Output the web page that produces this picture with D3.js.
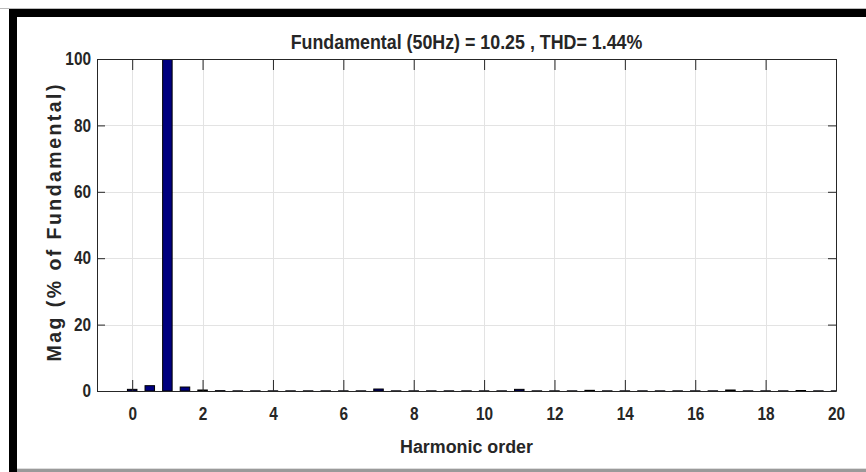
<!DOCTYPE html>
<html>
<head>
<meta charset="utf-8">
<script src="https://cdn.jsdelivr.net/npm/d3@7"></script>
<style>
  body { margin: 0; background: #fff; }
  svg { display: block; }
  .narrow { font-family: "Liberation Sans", Arial, sans-serif; font-weight: bold; fill: #262626; }
</style>
</head>
<body>
<div id="chart"></div>
<script>
// harmonic order of each FFT bin (0.5 step = 25 Hz resolution)
const orders = [0, 0.5, 1, 1.5, 2, 2.5, 3, 3.5, 4, 4.5, 5, 5.5, 6, 6.5, 7, 7.5, 8, 8.5, 9, 9.5,
  10, 10.5, 11, 11.5, 12, 12.5, 13, 13.5, 14, 14.5, 15, 15.5, 16, 16.5, 17, 17.5, 18, 18.5, 19, 19.5, 20];
// magnitude in % of fundamental
const mags = [0.5, 1.6, 100, 1.2, 0.3, 0.1, 0.05, 0.05, 0.05, 0.05, 0.05, 0.05, 0.05, 0.05, 0.6, 0.05,
  0.05, 0.05, 0.05, 0.05, 0.05, 0.05, 0.5, 0.05, 0.05, 0.05, 0.2, 0.05, 0.05, 0.05, 0.05, 0.05,
  0.05, 0.05, 0.3, 0.05, 0.05, 0.05, 0.15, 0.05, 0.05];
const xTicks = [0, 2, 4, 6, 8, 10, 12, 14, 16, 18, 20];
const yTicks = [0, 20, 40, 60, 80, 100];
const titleText = "Fundamental (50Hz) = 10.25 , THD= 1.44%";

const W = 866, H = 472;
const margin = { left: 97, top: 59, right: 866 - 836, bottom: 472 - 391 };
const iw = W - margin.left - margin.right;
const ih = H - margin.top - margin.bottom;
const squeeze = 0.88; // fake the narrow bold font

const svg = d3.select("#chart").append("svg").attr("width", W).attr("height", H);

// outer figure frame
svg.append("rect").attr("x", 0).attr("y", 0).attr("width", W).attr("height", H).attr("fill", "#fff");
svg.append("rect").attr("x", 0).attr("y", 8).attr("width", W).attr("height", 1).attr("fill", "#bbb");
svg.append("rect").attr("x", 9).attr("y", 9).attr("width", W - 9).attr("height", 8).attr("fill", "#000");
svg.append("rect").attr("x", 9).attr("y", 9).attr("width", 8).attr("height", H - 9).attr("fill", "#000");
svg.append("rect").attr("x", 17).attr("y", 468).attr("width", W - 17).attr("height", 1).attr("fill", "#ddd");
svg.append("rect").attr("x", 17).attr("y", 469).attr("width", W - 17).attr("height", 3).attr("fill", "#9a9a9a");

const x = d3.scaleLinear().domain([-1, 20]).range([0, iw]);
const y = d3.scaleLinear().domain([0, 100]).range([ih, 0]);

const g = svg.append("g").attr("transform", `translate(${margin.left},${margin.top})`);

g.append("clipPath").attr("id", "clip").append("rect").attr("width", iw).attr("height", ih + 1);

// grid
g.append("g").selectAll("line").data(xTicks).join("line")
  .attr("x1", d => Math.round(x(d)) + 0.5).attr("x2", d => Math.round(x(d)) + 0.5)
  .attr("y1", 0).attr("y2", ih).attr("stroke", "#e3e3e3");
g.append("g").selectAll("line").data(yTicks).join("line")
  .attr("y1", d => Math.round(y(d)) + 0.5).attr("y2", d => Math.round(y(d)) + 0.5)
  .attr("x1", 0).attr("x2", iw).attr("stroke", "#e3e3e3");

// bars
const bw = 0.27 * (x(1) - x(0));
g.append("g").attr("clip-path", "url(#clip)").selectAll("rect").data(orders).join("rect")
  .attr("x", (d) => x(d) - bw / 2)
  .attr("y", (d, i) => y(mags[i]))
  .attr("width", bw)
  .attr("height", (d, i) => ih - y(mags[i]))
  .attr("fill", "#00007f")
  .attr("stroke", "#000")
  .attr("stroke-width", 1);

// axes box + inward ticks
const xAxisB = d3.axisBottom(x).tickValues(xTicks).tickSizeInner(-11).tickSizeOuter(0).tickPadding(17);
const xAxisT = d3.axisTop(x).tickValues(xTicks).tickSizeInner(-11).tickSizeOuter(0).tickFormat("");
const yAxisL = d3.axisLeft(y).tickValues(yTicks).tickSizeInner(-8).tickSizeOuter(0).tickPadding(6);
const yAxisR = d3.axisRight(y).tickValues(yTicks).tickSizeInner(-8).tickSizeOuter(0).tickFormat("");

function styleAxis(sel) {
  sel.select(".domain").attr("stroke", "#262626");
  sel.selectAll(".tick line").attr("stroke", "#262626");
  sel.selectAll(".tick text").attr("class", "narrow").style("font-size", "17.5px");
}
g.append("g").attr("transform", `translate(0,${ih})`).call(xAxisB).call(styleAxis)
  .selectAll(".tick text").attr("transform", `scale(${squeeze},1)`);
g.append("g").call(xAxisT).call(styleAxis);
g.append("g").call(yAxisL).call(styleAxis)
  .selectAll(".tick text")
  .attr("x", -6 / squeeze)
  .attr("transform", `scale(${squeeze},1)`);
g.append("g").attr("transform", `translate(${iw},0)`).call(yAxisR).call(styleAxis);

// title and labels
svg.append("text").attr("class", "narrow")
  .attr("transform", `translate(${margin.left + iw / 2},49) scale(0.915,1)`)
  .attr("text-anchor", "middle").style("font-size", "19.5px")
  .text(titleText);

svg.append("text").attr("class", "narrow")
  .attr("transform", `translate(${margin.left + iw / 2},453) scale(${squeeze + 0.06},1)`)
  .attr("text-anchor", "middle").style("font-size", "19px")
  .text("Harmonic order");

svg.append("text")
  .attr("transform", `translate(61,${margin.top + ih / 2 - 2}) rotate(-90)`)
  .attr("text-anchor", "middle")
  .style("font-family", "Liberation Sans, Arial, sans-serif")
  .style("font-weight", "bold").style("font-size", "19.5px").style("fill", "#262626")
  .attr("textLength", 277).attr("lengthAdjust", "spacing")
  .text("Mag (% of Fundamental)");
</script>
</body>
</html>
